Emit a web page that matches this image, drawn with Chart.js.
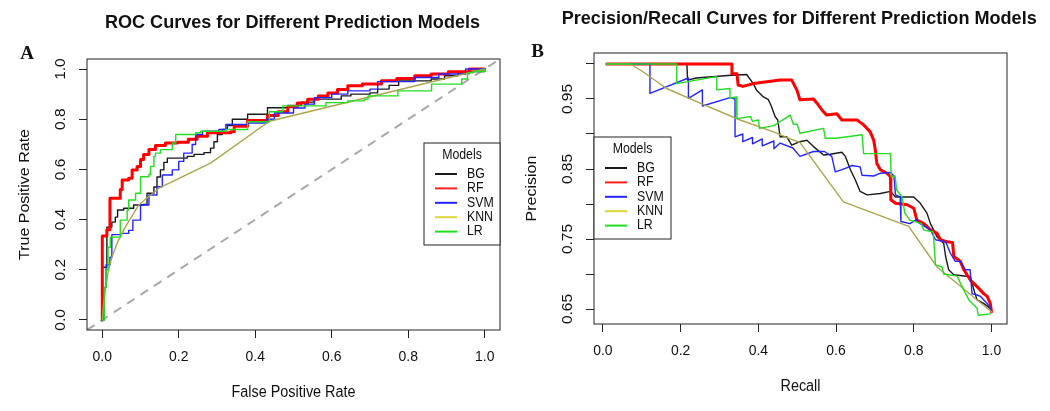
<!DOCTYPE html>
<html>
<head>
<meta charset="utf-8">
<script src="https://cdn.jsdelivr.net/npm/chart.js@4.4.1/dist/chart.umd.min.js"></script>
<style>
  html, body { margin: 0; padding: 0; background: #fff; }
  #wrap { position: relative; width: 1050px; height: 411px; }
  .panel { position: absolute; top: 0; width: 525px; height: 411px; }
</style>
</head>
<body>
<div id="wrap">
  <div class="panel" style="left:0"><canvas id="rocChart" width="525" height="411"></canvas></div>
  <div class="panel" style="left:525px"><canvas id="prChart" width="525" height="411"></canvas></div>
</div>
<script>
const models = ['BG', 'RF', 'SVM', 'KNN', 'LR'];
const lineColors = ['#1a1a1a', '#ff0000', '#2424ff', '#aaa54c', '#22dd22'];
const legendColors = ['#1a1a1a', '#ff2020', '#2424ff', '#dcd63c', '#22dd22'];
const lineWidths = [1.4, 3, 1.4, 1.4, 1.4];
const xTicks = ['0.0', '0.2', '0.4', '0.6', '0.8', '1.0'];
const rocYTicks = ['0.0', '0.2', '0.4', '0.6', '0.8', '1.0'];
const prYTicks = ['0.65', '0.75', '0.85', '0.95'];

// ROC curves: [false positive rate, true positive rate]
const rocBG = [[0,0],[0,0.21],[0.012,0.37],[0.025,0.39],[0.034,0.41],[0.04,0.438],[0.056,0.445],[0.082,0.458],[0.108,0.46],[0.117,0.505],[0.135,0.53],[0.143,0.57],[0.152,0.598],[0.161,0.628],[0.17,0.645],[0.222,0.652],[0.24,0.66],[0.266,0.667],[0.283,0.685],[0.292,0.71],[0.301,0.739],[0.314,0.759],[0.327,0.775],[0.34,0.8],[0.38,0.82],[0.432,0.846],[0.485,0.855],[0.52,0.868],[0.554,0.88],[0.625,0.893],[0.65,0.9],[0.7,0.905],[0.72,0.92],[0.75,0.935],[0.775,0.953],[0.86,0.96],[0.895,0.973],[0.93,0.982],[0.96,0.99],[1,1]];
const rocRF = [[0,0],[0,0.335],[0.012,0.36],[0.02,0.485],[0.047,0.52],[0.052,0.558],[0.069,0.565],[0.078,0.598],[0.091,0.612],[0.1,0.639],[0.108,0.659],[0.122,0.679],[0.139,0.695],[0.165,0.705],[0.196,0.708],[0.225,0.72],[0.248,0.732],[0.275,0.746],[0.336,0.75],[0.345,0.772],[0.38,0.795],[0.432,0.815],[0.46,0.83],[0.485,0.85],[0.51,0.865],[0.537,0.88],[0.565,0.893],[0.59,0.905],[0.615,0.918],[0.642,0.933],[0.68,0.94],[0.73,0.953],[0.77,0.962],[0.817,0.973],[0.86,0.98],[0.905,0.989],[0.96,1],[1,1]];
const rocSVM = [[0,0],[0.005,0.13],[0.01,0.22],[0.02,0.25],[0.025,0.34],[0.05,0.345],[0.069,0.357],[0.08,0.398],[0.1,0.458],[0.122,0.498],[0.143,0.531],[0.157,0.578],[0.183,0.598],[0.2,0.632],[0.213,0.665],[0.235,0.699],[0.244,0.739],[0.262,0.752],[0.305,0.759],[0.323,0.779],[0.38,0.785],[0.43,0.8],[0.45,0.825],[0.5,0.845],[0.53,0.86],[0.555,0.886],[0.6,0.9],[0.642,0.913],[0.7,0.92],[0.72,0.95],[0.817,0.966],[0.88,0.98],[0.95,1],[1,1]];
const rocKNN = [[0,0],[0.003,0.06],[0.008,0.12],[0.015,0.19],[0.025,0.25],[0.04,0.31],[0.06,0.37],[0.095,0.458],[0.148,0.525],[0.283,0.625],[0.437,0.792],[1,1]];
const rocLR = [[0,0],[0.005,0.13],[0.01,0.2],[0.015,0.29],[0.021,0.33],[0.04,0.33],[0.047,0.398],[0.065,0.438],[0.069,0.478],[0.087,0.505],[0.1,0.571],[0.122,0.58],[0.126,0.612],[0.135,0.652],[0.139,0.665],[0.152,0.679],[0.183,0.705],[0.192,0.739],[0.244,0.746],[0.257,0.752],[0.323,0.759],[0.38,0.79],[0.437,0.83],[0.472,0.853],[0.585,0.866],[0.642,0.873],[0.685,0.88],[0.695,0.893],[0.773,0.913],[0.861,0.94],[0.94,0.96],[0.955,0.985],[0.97,0.99],[1,1]];
const rocChance = [[-0.04,-0.04],[1.04,1.04]];

// Precision/recall curves: [recall, precision]
const prBG = [[0.01,1],[0.216,1],[0.218,0.977],[0.24,0.98],[0.33,0.984],[0.37,0.985],[0.387,0.972],[0.395,0.963],[0.413,0.953],[0.426,0.949],[0.434,0.939],[0.443,0.925],[0.45,0.92],[0.456,0.896],[0.473,0.896],[0.486,0.884],[0.507,0.889],[0.525,0.891],[0.542,0.882],[0.568,0.87],[0.585,0.871],[0.615,0.874],[0.624,0.868],[0.637,0.849],[0.65,0.834],[0.662,0.818],[0.68,0.813],[0.714,0.815],[0.74,0.818],[0.753,0.81],[0.8,0.81],[0.817,0.801],[0.834,0.787],[0.843,0.772],[0.86,0.753],[0.877,0.744],[0.882,0.725],[0.89,0.706],[0.903,0.699],[0.946,0.696],[0.955,0.677],[0.963,0.663],[0.98,0.658],[0.997,0.651]];
const prRF = [[0.01,1],[0.332,1],[0.332,0.986],[0.345,0.986],[0.348,0.97],[0.36,0.968],[0.387,0.972],[0.427,0.975],[0.456,0.977],[0.486,0.977],[0.499,0.963],[0.507,0.949],[0.542,0.95],[0.551,0.944],[0.564,0.934],[0.576,0.927],[0.602,0.929],[0.615,0.92],[0.654,0.92],[0.671,0.913],[0.688,0.903],[0.697,0.891],[0.701,0.877],[0.705,0.858],[0.714,0.849],[0.731,0.844],[0.74,0.839],[0.741,0.806],[0.753,0.801],[0.783,0.799],[0.8,0.794],[0.808,0.777],[0.826,0.772],[0.843,0.763],[0.86,0.758],[0.869,0.749],[0.886,0.746],[0.9,0.745],[0.903,0.725],[0.92,0.718],[0.929,0.706],[0.946,0.691],[0.963,0.682],[0.98,0.672],[0.989,0.668],[0.997,0.658],[1,0.646]];
const prSVM = [[0.01,1],[0.121,1],[0.121,0.958],[0.22,0.98],[0.22,0.951],[0.256,0.963],[0.256,0.94],[0.327,0.952],[0.34,0.95],[0.34,0.896],[0.36,0.9],[0.36,0.889],[0.385,0.895],[0.385,0.886],[0.41,0.893],[0.41,0.883],[0.44,0.89],[0.44,0.879],[0.456,0.887],[0.489,0.88],[0.507,0.868],[0.542,0.875],[0.57,0.875],[0.589,0.868],[0.598,0.846],[0.624,0.851],[0.641,0.855],[0.662,0.853],[0.667,0.841],[0.697,0.84],[0.714,0.844],[0.74,0.845],[0.749,0.84],[0.753,0.813],[0.765,0.81],[0.767,0.775],[0.79,0.772],[0.808,0.778],[0.81,0.774],[0.843,0.763],[0.856,0.749],[0.882,0.746],[0.894,0.73],[0.907,0.718],[0.92,0.718],[0.933,0.706],[0.945,0.706],[0.95,0.672],[0.963,0.67],[0.972,0.668],[0.989,0.658],[1,0.649]];
const prKNN = [[0.01,1],[0.07,1],[0.1,0.99],[0.164,0.965],[0.25,0.944],[0.353,0.92],[0.439,0.903],[0.482,0.893],[0.507,0.888],[0.619,0.803],[0.787,0.768],[0.86,0.71],[1,0.646]];
const prLR = [[0.01,1],[0.19,1],[0.19,0.972],[0.24,0.977],[0.293,0.982],[0.293,0.963],[0.327,0.965],[0.327,0.951],[0.343,0.953],[0.345,0.922],[0.38,0.925],[0.385,0.918],[0.4,0.92],[0.403,0.908],[0.44,0.912],[0.482,0.927],[0.49,0.914],[0.5,0.914],[0.507,0.901],[0.568,0.908],[0.572,0.894],[0.6,0.894],[0.667,0.899],[0.671,0.872],[0.74,0.872],[0.742,0.839],[0.752,0.84],[0.756,0.82],[0.77,0.81],[0.777,0.787],[0.79,0.777],[0.82,0.772],[0.825,0.763],[0.85,0.76],[0.856,0.713],[0.873,0.71],[0.877,0.7],[0.912,0.697],[0.92,0.687],[0.929,0.677],[0.942,0.663],[0.963,0.651],[0.966,0.641],[0.997,0.643]];

const SANS = '"Liberation Sans", Arial, sans-serif';

function hText(ctx, text, x, y, font, sx, align) {
  ctx.save();
  ctx.font = font;
  ctx.textAlign = align || 'center';
  ctx.textBaseline = 'middle';
  ctx.translate(x, y);
  ctx.scale(sx, 1);
  ctx.fillText(text, 0, 0);
  ctx.restore();
}

function fitText(ctx, text, x, y, font, width) {
  ctx.save();
  ctx.font = font;
  const sx = width / ctx.measureText(text).width;
  ctx.restore();
  hText(ctx, text, x, y, font, sx);
}

function vText(ctx, text, x, y, font) {
  ctx.save();
  ctx.font = font;
  ctx.textAlign = 'center';
  ctx.textBaseline = 'middle';
  ctx.translate(x, y);
  ctx.rotate(-Math.PI / 2);
  ctx.scale(1, 0.9);
  ctx.fillText(text, 0, 0);
  ctx.restore();
}

// box, labels, titles and legend, R style
function decor(p) {
  return {
    id: 'decor',
    afterDatasetsDraw(chart) {
      const ctx = chart.ctx, a = chart.chartArea;
      const xs = chart.scales.x, ys = chart.scales.y;
      ctx.save();
      ctx.strokeStyle = '#222';
      ctx.lineWidth = 1;
      ctx.strokeRect(a.left, a.top, a.right - a.left, a.bottom - a.top);
      ctx.fillStyle = '#111';
      xTicks.forEach(t => hText(ctx, t, xs.getPixelForValue(+t), a.bottom + 27, '15.5px ' + SANS, 0.9));
      p.yTicks.forEach(t => vText(ctx, t, a.left - 26, ys.getPixelForValue(+t), '15.5px ' + SANS));
      fitText(ctx, p.title, p.titleX, p.titleY, 'bold 18px ' + SANS, p.titleW);
      hText(ctx, p.letter, p.letterX, p.letterY, 'bold 19px "Liberation Serif", serif', 1);
      hText(ctx, p.xTitle, (a.left + a.right) / 2, a.bottom + 63, '16px ' + SANS, 0.9);
      vText(ctx, p.yTitle, a.left - 62, (a.top + a.bottom) / 2, '16px ' + SANS);

      const L = p.legend;
      ctx.fillStyle = '#fff';
      ctx.fillRect(L.x, L.y, L.w, L.h);
      ctx.strokeRect(L.x, L.y, L.w, L.h);
      ctx.fillStyle = '#111';
      hText(ctx, 'Models', L.x + L.w / 2, L.y + 12, '14px ' + SANS, 0.88);
      models.forEach((m, i) => {
        const yy = L.y + 31 + i * 14.4;
        ctx.strokeStyle = legendColors[i];
        ctx.lineWidth = 2;
        ctx.beginPath();
        ctx.moveTo(L.x + 11, yy);
        ctx.lineTo(L.x + 33, yy);
        ctx.stroke();
        hText(ctx, m, L.x + 43, yy, '14px ' + SANS, 0.88, 'left');
      });
      ctx.restore();
    }
  };
}

function axis(min, max, step) {
  return {
    type: 'linear',
    min: min,
    max: max,
    ticks: { display: false, stepSize: step, includeBounds: false },
    grid: { drawOnChartArea: false, drawTicks: true, tickLength: 8, tickColor: '#222', tickWidth: 1 },
    border: { display: false },
    afterFit: s => { if (s.isHorizontal()) s.height = 0; else s.width = 0; }
  };
}

const toPts = arr => arr.map(([x, y]) => ({ x: x, y: y }));

function curveSets(list, stepped) {
  return list.map((arr, i) => ({
    label: models[i],
    data: toPts(arr),
    borderColor: lineColors[i],
    borderWidth: lineWidths[i],
    stepped: stepped && i !== 3,
    tension: 0,
    pointRadius: 0,
    borderCapStyle: 'round',
    borderJoinStyle: 'round',
    order: 5 - i
  }));
}

function makeChart(id, datasets, xRange, yRange, yStep, pad, deco) {
  return new Chart(document.getElementById(id), {
    type: 'line',
    data: { datasets: datasets },
    options: {
      responsive: false,
      animation: false,
      devicePixelRatio: 1,
      layout: { padding: pad },
      plugins: { legend: { display: false }, tooltip: { enabled: false }, title: { display: false } },
      scales: {
        x: axis(xRange[0], xRange[1], 0.2),
        y: axis(yRange[0], yRange[1], yStep)
      }
    },
    plugins: [decor(deco)]
  });
}

const rocSets = curveSets([rocBG, rocRF, rocSVM, rocKNN, rocLR], true);
rocSets.push({
  label: 'chance', data: toPts(rocChance), borderColor: '#a8a8a8', borderWidth: 2,
  borderDash: [9, 7], pointRadius: 0, order: 10
});

makeChart('rocChart', rocSets, [-0.04, 1.04], [-0.04, 1.04], 0.2,
  { left: 87, top: 59, right: 25, bottom: 81 },
  {
    yTicks: rocYTicks, title: 'ROC Curves for Different Prediction Models',
    titleX: 292.5, titleY: 23.5, titleW: 375, letter: 'A', letterX: 27, letterY: 54,
    xTitle: 'False Positive Rate', yTitle: 'True Positive Rate',
    legend: { x: 424, y: 143, w: 76, h: 102 }
  });

makeChart('prChart', curveSets([prBG, prRF, prSVM, prKNN, prLR], false), [-0.023, 1.04], [0.6286, 1.0157], 0.05,
  { left: 69, top: 53, right: 43, bottom: 87 },
  {
    yTicks: prYTicks, title: 'Precision/Recall Curves for Different Prediction Models',
    titleX: 274.2, titleY: 19, titleW: 475, letter: 'B', letterX: 12.5, letterY: 52.5,
    xTitle: 'Recall', yTitle: 'Precision',
    legend: { x: 69, y: 137, w: 77, h: 102 }
  });
</script>
</body>
</html>
